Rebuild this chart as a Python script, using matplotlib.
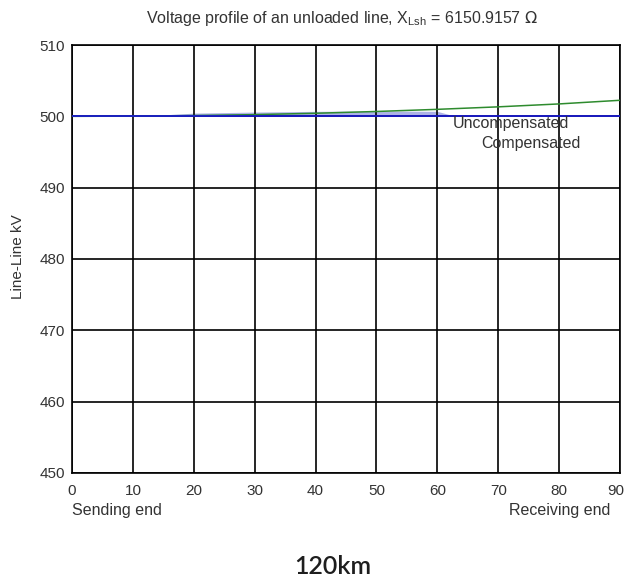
import matplotlib
matplotlib.use("Agg")
import matplotlib.pyplot as plt
import matplotlib.transforms as mtransforms

plt.rcParams["font.family"] = ["Liberation Sans", "DejaVu Sans"]

# distance along the line and line-line voltage (kV)
distance = [0, 10, 20, 30, 40, 50, 60, 70, 80, 90]
uncompensated = [500.0, 500.03, 500.11, 500.24, 500.43, 500.68, 500.98, 501.33, 501.74, 502.25]
compensated = [500.0, 500.0, 500.0, 500.0, 500.0, 500.0, 500.0, 500.0, 500.0, 500.0]
shade_x = [15, 20, 30, 40, 50, 60, 63]
shade_lo = [500.0, 500.0, 500.0, 500.0, 500.0, 500.0, 500.0]
shade_hi = [500.2, 500.45, 500.6, 500.7, 500.75, 500.7, 500.0]

xticks = [0, 10, 20, 30, 40, 50, 60, 70, 80, 90]
yticks = [450, 460, 470, 480, 490, 500, 510]

W, H = 626, 579
fig = plt.figure(figsize=(W / 100, H / 100), dpi=100)
fig.patch.set_facecolor("white")
ax = fig.add_axes([72 / W, 1 - 473 / H, (620 - 72) / W, (473 - 45) / H])

ax.fill_between(shade_x, shade_lo, shade_hi, color="#aeb3e6", lw=0, zorder=2)
ax.plot(distance, uncompensated, color="#2e8b2e", lw=1.1, zorder=3)
ax.plot(distance, compensated, color="#1a1acc", lw=1.3, zorder=3)

ax.set_xlim(0, 90)
ax.set_ylim(450, 510)
ax.set_xticks(xticks)
ax.set_yticks(yticks)
ax.grid(True, color="black", lw=1.2)
ax.set_axisbelow(False)
for s in ax.spines.values():
    s.set_color("black")
    s.set_linewidth(1.2)
ax.tick_params(length=0, pad=5, labelsize=11, labelcolor="#333333")
ax.tick_params(axis="x", pad=8)

# last x label sits right at the figure edge; nudge it in a little
last = ax.get_xticklabels()[-1]
last.set_transform(last.get_transform() +
                   mtransforms.ScaledTranslation(-4 / 100, 0, fig.dpi_scale_trans))

ax.text(62.5, 499.0, "Uncompensated", fontsize=11.5, color="#333333", ha="left", va="center", zorder=4)
ax.text(67.2, 496.2, "Compensated", fontsize=11.5, color="#333333", ha="left", va="center", zorder=4)

fig.text(342 / W, 1 - 18 / H,
         r"Voltage profile of an unloaded line, X$\mathregular{_{Lsh}}$ = 6150.9157 $\Omega$",
         ha="center", va="center", fontsize=11.5, color="#333333")
fig.text(18 / W, 1 - 257 / H, "Line-Line kV", rotation=90, ha="center", va="center",
         fontsize=11, color="#333333")
fig.text(72 / W, 1 - 510 / H, "Sending end", ha="left", va="center", fontsize=11.5, color="#333333")
fig.text(610 / W, 1 - 510 / H, "Receiving end", ha="right", va="center", fontsize=11.5, color="#333333")
fig.text(333 / W, 1 - 566 / H, "120km", ha="center", va="center", fontsize=18,
         family=["Lato", "DejaVu Sans"], fontweight="semibold", color="#1e1e1e")

fig.savefig("out.png", dpi=100, facecolor="white")
